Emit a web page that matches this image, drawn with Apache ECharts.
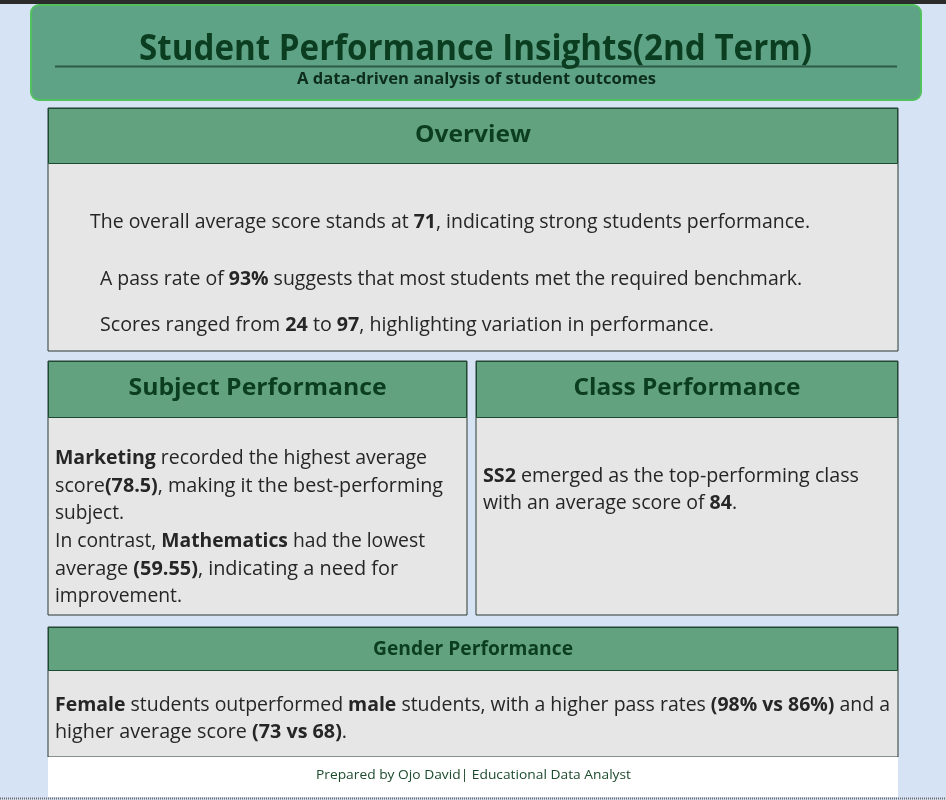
<!DOCTYPE html>
<html>
<head>
<meta charset="utf-8">
<title>Student Performance Insights</title>
<script src="https://cdn.jsdelivr.net/npm/echarts@6/dist/echarts.min.js"></script>
<style>
  html, body { margin: 0; padding: 0; background: #d6e3f4; }
  #chart { width: 946px; height: 800px; }
</style>
</head>
<body>
<div id="chart"></div>
<script>
var overviewLabels = ['Average score', 'Pass rate (%)', 'Lowest score', 'Highest score'];
var overviewValues = [71, 93, 24, 97];
var subjectNames = ['Marketing', 'Mathematics'];
var subjectAverages = [78.5, 59.55];
var classNames = ['SS2'];
var classAverages = [84];
var genderNames = ['Female', 'male'];
var genderPassRates = [98, 86];
var genderAverages = [73, 68];

var FONT = '"Open Sans", "Noto Sans", sans-serif';
var TITLE_C = '#0b3d20';
var TEXT_C = '#262626';

var ctx = document.createElement('canvas').getContext('2d');

// width of a line made of [text, bold] segments
function measure(segs, size) {
    var w = 0;
    segs.forEach(function (s) {
        ctx.font = (s[1] ? 'bold ' : '') + size + 'px ' + FONT;
        w += ctx.measureText(s[0]).width;
    });
    return w;
}

// one text line, squeezed/stretched to the width it has in the report
function line(segs, x, y, size, targetW, opt) {
    opt = opt || {};
    var color = opt.color || TEXT_C;
    var sx = targetW ? targetW / measure(segs, size) : 1;
    var txt = segs.map(function (s) {
        return '{' + (s[1] ? 'b' : 'n') + '|' + s[0] + '}';
    }).join('');
    return {
        type: 'text',
        x: x,
        y: y,
        scaleX: sx,
        z: 10,
        style: {
            text: txt,
            align: opt.align || 'left',
            verticalAlign: 'middle',
            rich: {
                n: { fontSize: size, fontFamily: FONT, fontWeight: 'normal', fill: color },
                b: { fontSize: size, fontFamily: FONT, fontWeight: 'bold', fill: color }
            }
        }
    };
}

function panel(x, y, w, h, headH, title, titleSize, titleW, dy) {
    return [
        { type: 'rect', shape: { x: x, y: y, width: w, height: h },
          style: { fill: '#e6e6e6', stroke: '#2a3a33', lineWidth: 1 } },
        { type: 'rect', shape: { x: x + 0.5, y: y + 0.5, width: w - 1, height: headH },
          style: { fill: '#62a27f', stroke: '#1d4a33', lineWidth: 1 } },
        line([[title, true]], x + w / 2, y + headH / 2 + (dy || 0), titleSize, titleW,
             { align: 'center', color: TITLE_C })
    ];
}

var els = [];

// top dark strip and bottom dotted edge
els.push({ type: 'rect', shape: { x: 0, y: 0, width: 946, height: 4 }, style: { fill: '#2b2b2b' } });
els.push({ type: 'line', shape: { x1: 0, y1: 798.5, x2: 946, y2: 798.5 },
           style: { stroke: '#6b6b6b', lineWidth: 2, lineDash: [1, 1] } });

// header banner
els.push({ type: 'rect', shape: { x: 31, y: 5, width: 890, height: 95, r: 8 },
           style: { fill: '#5fa386', stroke: '#53c05f', lineWidth: 2 } });
els.push({ type: 'line', shape: { x1: 55, y1: 66.5, x2: 897, y2: 66.5 },
           style: { stroke: '#2f5a47', lineWidth: 2 }, z: 5 });
els.push(line([['Student Performance Insights(2nd Term)', true]], 475.5, 50, 36, 673,
              { align: 'center', color: TITLE_C }));
els.push(line([['A data-driven analysis of student outcomes', true]], 476.5, 79.5, 16, 359,
              { align: 'center', color: '#0d2d1b' }));

// overview
els = els.concat(panel(48, 108, 850, 243, 55, 'Overview', 24, 116, -0.5));
els.push(line([['The overall average score stands at ', false], [String(overviewValues[0]), true],
               [', indicating strong students performance.', false]], 90, 222, 20, 720));
els.push(line([['A pass rate of ', false], [overviewValues[1] + '%', true],
               [' suggests that most students met the required benchmark.', false]], 100, 279, 20, 702));
els.push(line([['Scores ranged from ', false], [String(overviewValues[2]), true], [' to ', false],
               [String(overviewValues[3]), true], [', highlighting variation in performance.', false]],
              100, 325, 20, 614));

// subject performance
els = els.concat(panel(48, 361, 419, 254, 56, 'Subject Performance', 24, 258, -1));
var subjLines = [
    [[[subjectNames[0], true], [' recorded the highest average', false]], 372],
    [[['score', false], ['(' + subjectAverages[0] + ')', true], [', making it the best-performing', false]], 388],
    [[['subject.', false]], 69],
    [[['In contrast, ', false], [subjectNames[1], true], [' had the lowest', false]], 370],
    [[['average ', false], ['(' + subjectAverages[1] + ')', true], [', indicating a need for', false]], 343],
    [[['improvement.', false]], 127]
];
subjLines.forEach(function (l, i) {
    els.push(line(l[0], 55, 458.5 + i * 27.6, 20, l[1]));
});

// class performance
els = els.concat(panel(476, 361, 422, 254, 56, 'Class Performance', 24, 227, -1));
els.push(line([[classNames[0], true], [' emerged as the top-performing class', false]], 483, 476.5, 20, 376));
els.push(line([['with an average score of ', false], [String(classAverages[0]), true], ['.', false]],
              483, 503.5, 20, 254));

// gender performance
els = els.concat(panel(48, 627, 850, 130, 43, 'Gender Performance', 19, 200, 1));
els.push(line([[genderNames[0], true], [' students outperformed ', false], [genderNames[1], true],
               [' students, with a higher pass rates ', false],
               ['(' + genderPassRates[0] + '% vs ' + genderPassRates[1] + '%)', true], [' and a', false]],
              55, 705, 20, 835));
els.push(line([['higher average score ', false],
               ['(' + genderAverages[0] + ' vs ' + genderAverages[1] + ')', true], ['.', false]],
              55, 732, 20, 292));

// footer
els.push({ type: 'rect', shape: { x: 48, y: 757, width: 850, height: 40 }, style: { fill: '#ffffff' } });
els.push(line([['Prepared by Ojo David| Educational Data Analyst', false]], 473.5, 775.5, 13, 315,
              { align: 'center', color: '#1c4a2c' }));

var chart = echarts.init(document.getElementById('chart'));
chart.setOption({
    backgroundColor: '#d6e3f4',
    animation: false,
    graphic: { elements: els }
});
</script>
</body>
</html>
